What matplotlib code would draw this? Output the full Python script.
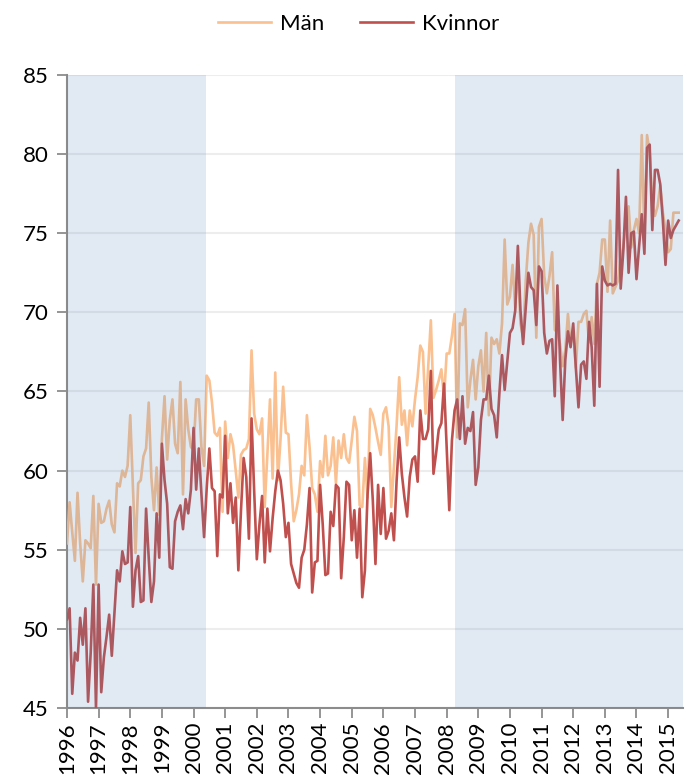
import matplotlib
matplotlib.use("Agg")
import matplotlib.pyplot as plt
import numpy as np

# monthly values, Jan 1996 - May 2015
man = [
    55.4, 58.0, 56.1, 54.3, 58.6, 55.4, 53.0, 55.6, 55.4, 55.1, 58.4, 52.8,  # 1996
    57.9, 56.7, 56.8, 57.6, 58.1, 56.6, 56.1, 59.2, 59.0, 60.0, 59.6, 60.3,  # 1997
    63.5, 59.0, 54.8, 59.2, 59.4, 60.9, 61.4, 64.3, 59.6, 57.5, 60.2, 57.2,  # 1998
    62.0, 64.7, 60.7, 63.2, 64.5, 61.7, 61.1, 65.6, 58.5, 64.5, 62.6, 61.5,  # 1999
    61.3, 64.5, 64.5, 61.5, 60.3, 66.0, 65.7, 64.3, 62.4, 62.2, 62.7, 57.4,  # 2000
    63.1, 60.8, 62.3, 61.6, 60.0, 58.3, 61.0, 61.3, 61.4, 62.0, 67.6, 63.6,  # 2001
    62.6, 62.3, 63.3, 57.7, 61.0, 64.5, 59.5, 66.2, 59.4, 62.0, 65.3, 62.4,  # 2002
    62.3, 59.2, 56.8, 57.5, 58.5, 60.3, 59.7, 63.5, 61.5, 58.9, 58.5, 57.4,  # 2003
    60.6, 59.6, 62.2, 59.7, 60.3, 62.1, 59.2, 61.9, 60.8, 62.3, 60.8, 60.5,  # 2004
    61.9, 63.4, 62.5, 57.8, 57.7, 60.8, 58.3, 63.9, 63.5, 62.7, 61.8, 61.0,  # 2005
    63.6, 64.0, 62.8, 57.7, 60.2, 62.8, 65.9, 62.9, 63.8, 61.6, 63.8, 62.8,  # 2006
    64.5, 65.9, 67.9, 67.5, 63.6, 66.5, 69.5, 64.6, 65.1, 65.7, 66.4, 64.6,  # 2007
    67.4, 67.4, 68.5, 69.9, 62.1, 69.3, 69.2, 70.2, 64.0, 65.7, 67.0, 64.5,  # 2008
    66.6, 67.6, 65.0, 68.7, 63.5, 68.4, 68.0, 68.3, 67.4, 69.3, 74.6, 70.5,  # 2009
    71.0, 73.0, 70.3, 72.9, 69.3, 68.4, 72.0, 74.4, 75.6, 74.9, 68.4, 75.4,  # 2010
    75.9, 72.3, 71.2, 72.3, 73.8, 68.9, 68.7, 68.0, 66.6, 67.6, 69.9, 68.0,  # 2011
    68.8, 66.5, 69.4, 69.4, 69.9, 70.1, 68.1, 69.7, 68.0, 71.8, 72.5, 74.6,  # 2012
    74.6, 71.3, 75.8, 71.2, 71.6, 72.0, 73.5, 74.1, 75.8, 76.7, 74.1, 75.2,  # 2013
    75.9, 75.0, 81.2, 74.8, 81.2, 80.1, 76.9, 76.1, 76.7, 78.0, 76.3, 75.2,  # 2014
    73.8, 74.0, 76.3, 76.3, 76.3,                                            # 2015
]

kvinnor = [
    50.6, 51.3, 45.9, 48.5, 48.0, 50.7, 49.0, 51.3, 45.4, 48.5, 52.8, 45.0,  # 1996
    52.8, 46.0, 48.2, 49.5, 50.9, 48.3, 51.0, 53.7, 53.0, 54.9, 54.1, 54.2,  # 1997
    57.7, 51.4, 53.7, 54.6, 51.7, 51.8, 57.6, 54.5, 51.7, 53.0, 57.3, 54.5,  # 1998
    61.7, 59.4, 57.9, 53.9, 53.8, 56.8, 57.4, 57.8, 56.3, 58.2, 57.3, 58.8,  # 1999
    62.7, 58.8, 61.4, 58.5, 55.8, 58.9, 61.4, 58.9, 58.7, 54.6, 58.5, 58.3,  # 2000
    62.2, 57.3, 59.2, 56.7, 58.3, 53.7, 57.5, 60.8, 59.6, 55.7, 63.3, 58.7,  # 2001
    54.4, 56.6, 58.4, 54.2, 57.6, 54.9, 57.0, 58.7, 60.0, 59.4, 57.9, 55.8,  # 2002
    56.7, 54.1, 53.5, 52.9, 52.6, 54.5, 55.0, 56.6, 58.9, 52.3, 54.2, 54.3,  # 2003
    59.1, 56.6, 53.4, 53.5, 57.4, 56.5, 59.1, 58.9, 53.2, 55.8, 59.3, 59.1,  # 2004
    55.6, 57.5, 54.5, 57.6, 52.0, 53.7, 58.5, 61.1, 58.1, 54.1, 59.1, 56.0,  # 2005
    58.9, 55.7, 56.2, 57.3, 55.6, 59.3, 62.1, 59.8, 58.3, 57.1, 59.6, 60.7,  # 2006
    60.9, 59.3, 63.8, 62.0, 62.0, 62.6, 66.3, 59.8, 61.1, 62.6, 63.0, 65.5,  # 2007
    61.5, 57.5, 61.9, 63.8, 64.5, 62.0, 64.7, 61.7, 62.7, 62.5, 63.7, 59.1,  # 2008
    60.2, 63.2, 64.5, 64.5, 66.0, 63.9, 63.5, 62.1, 64.9, 67.3, 65.1, 66.9,  # 2009
    68.7, 69.0, 70.1, 74.2, 70.1, 68.0, 70.3, 72.5, 71.6, 71.4, 69.2, 72.9,  # 2010
    72.6, 68.7, 67.4, 68.2, 68.3, 64.7, 71.7, 67.0, 63.2, 67.0, 68.8, 67.8,  # 2011
    69.3, 66.5, 64.0, 66.7, 66.9, 65.8, 69.4, 67.8, 64.1, 71.8, 65.3, 72.9,  # 2012
    72.0, 71.7, 71.8, 71.7, 71.8, 79.0, 71.5, 73.9, 77.3, 72.5, 75.0, 75.1,  # 2013
    72.1, 74.2, 76.2, 73.7, 80.4, 80.6, 75.2, 79.0, 79.0, 78.1, 75.8, 73.0,  # 2014
    75.8, 74.7, 75.2, 75.5, 75.8,                                            # 2015
]

years = list(range(1996, 2016))
shaded = [(1996.0, 2000.4), (2008.25, 2015.6)]

plt.rcParams["font.family"] = ["Lato", "DejaVu Sans"]

x = 1996 + np.arange(len(man)) / 12.0

fig = plt.figure(figsize=(6.89, 7.76), dpi=100)
ax = fig.add_axes([0.0972, 0.0876, 0.8941, 0.8158])

ax.plot(x, man, color="#FAC090", lw=1.9, label="Män", zorder=3)
ax.plot(x, kvinnor, color="#C0504D", lw=1.9, label="Kvinnor", zorder=3)

for a, b in shaded:
    ax.axvspan(a, b, color="#4F81BD", alpha=0.17, lw=0, zorder=4)

ax.set_xlim(1996, 2015.47)
ax.set_ylim(45, 85)
ax.set_yticks(range(45, 86, 5))
ax.set_xticks(years)
ax.set_xticklabels([str(y) for y in years], rotation=90)

ax.yaxis.grid(True, color="#EDEDED", lw=1.5, zorder=1)
ax.set_axisbelow(True)

for s in ["top", "right"]:
    ax.spines[s].set_visible(False)
for s in ["left", "bottom"]:
    ax.spines[s].set_color("#8C8C8C")
    ax.spines[s].set_linewidth(1.5)

ax.tick_params(axis="both", colors="#8C8C8C", length=7, width=1.3,
               labelsize=16, labelcolor="black", direction="out")
ax.tick_params(axis="y", pad=6)
ax.tick_params(axis="x", pad=3)

fig.legend(loc="upper center", bbox_to_anchor=(0.52, 1.008), ncol=2,
           frameon=False, fontsize=16, handlelength=2.4, handletextpad=0.4,
           columnspacing=1.6)

fig.savefig("out.png", dpi=100)
